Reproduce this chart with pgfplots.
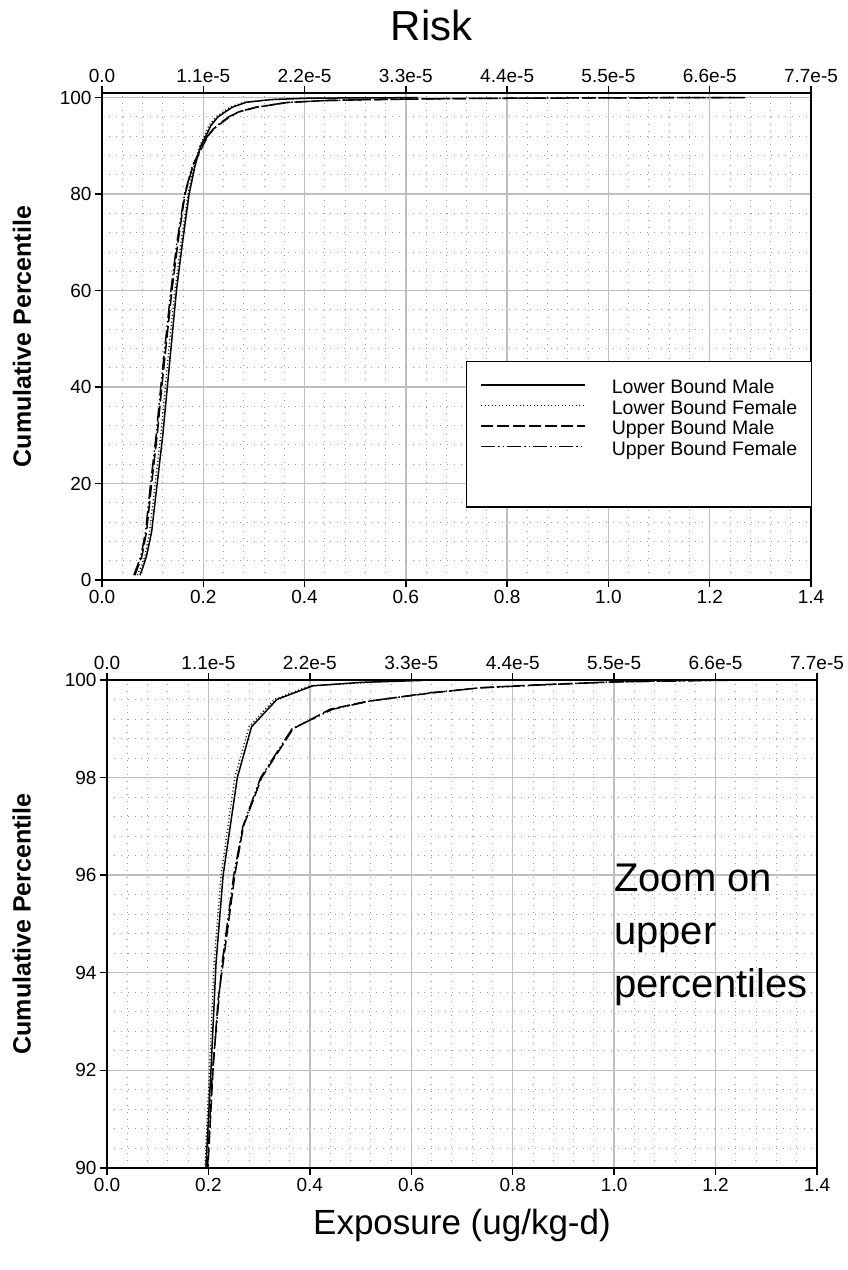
\documentclass[border=0pt]{standalone}
\usepackage{fontspec}
\setmainfont{Liberation Sans}
\usepackage{pgfplots}
\usepackage{pgfplotstable}
\pgfplotsset{compat=1.18}

\pgfplotstableread{
x p
0.075 1
0.082 3
0.088 5
0.098 10
0.109 20
0.120 30
0.129 40
0.138 50
0.147 60
0.159 70
0.172 80
0.184 86
0.195 90
0.205 92
0.215 94.2
0.229 96
0.257 98
0.285 99.04
0.335 99.6
0.406 99.88
0.500 99.95
0.623 99.99
}\lbm
\pgfplotstableread{
x p
0.070 1
0.078 3
0.085 5
0.094 10
0.105 20
0.116 30
0.125 40
0.134 50
0.144 60
0.156 70
0.170 80
0.182 86
0.193 90
0.202 92
0.211 94.2
0.225 96
0.252 98
0.280 99.04
0.330 99.6
0.400 99.88
0.550 99.97
0.600 100
}\lbf
\pgfplotstableread{
x p
0.065 1
0.072 3
0.079 5
0.088 10
0.098 20
0.109 30
0.118 40
0.128 50
0.138 60
0.150 70
0.164 80
0.180 86
0.199 90
0.209 92
0.219 93.44
0.229 94.2
0.252 96
0.269 97
0.305 98
0.367 99
0.440 99.4
0.512 99.56
0.637 99.73
0.736 99.84
0.850 99.9
1.000 99.96
1.150 99.99
1.260 100
}\ubm
\pgfplotstableread{
x p
0.063 1
0.070 3
0.077 5
0.086 10
0.096 20
0.107 30
0.116 40
0.126 50
0.136 60
0.148 70
0.163 80
0.179 86
0.198 90
0.208 92
0.227 94.2
0.250 96
0.268 97
0.303 98
0.365 99
0.445 99.4
0.520 99.57
0.640 99.74
0.740 99.84
0.860 99.9
1.000 99.96
1.200 99.99
1.270 100
}\ubf

\pgfplotsset{
  myaxis/.style={
    scale only axis, anchor=south west,
    xmin=0, xmax=1.4,
    xtick={0,0.2,0.4,0.6,0.8,1.0,1.2,1.4},
    minor x tick num=4, minor y tick num=4,
    grid=both,
    major grid style={draw=black!25, line width=1.3pt},
    minor grid style={draw=black!40, line width=0.9pt, dash pattern=on 0.9pt off 6pt},
    axis line style={line width=1.6pt},
    major tick style={black, line width=1.3pt},
    major tick length=7pt, minor tick length=0pt,
    tick align=outside,
    xtick pos=left, ytick pos=left,
    tick label style={font=\fontsize{19}{22}\selectfont},
    /pgf/number format/assume math mode=true,
    xticklabel style={/pgf/number format/.cd, fixed, fixed zerofill, precision=1},
    ylabel={\bfseries Cumulative Percentile},
    ylabel style={font=\fontsize{25}{28}\selectfont},
    legend image code/.code={\draw[##1, line width=1.5pt] (0pt,4.5pt) -- (104pt,4.5pt);},
  },
  riskaxis/.style={
    scale only axis, anchor=south west,
    xmin=0, xmax=1.4,
    axis x line*=top, axis y line=none,
    xtick={0,0.2,0.4,0.6,0.8,1.0,1.2,1.4},
    xticklabels={0.0,1.1e-5,2.2e-5,3.3e-5,4.4e-5,5.5e-5,6.6e-5,7.7e-5},
    axis line style={line width=1.6pt},
    major tick style={black, line width=1.3pt},
    major tick length=7pt,
    tick align=outside,
    tick label style={font=\fontsize{19}{22}\selectfont},
  },
  lbmstyle/.style={black, line width=1.5pt},
  lbfstyle/.style={black, line width=1.3pt, dash pattern=on 1pt off 2.5pt},
  ubmstyle/.style={black, line width=1.5pt, dash pattern=on 12pt off 4pt},
  ubfstyle/.style={black, line width=1.5pt, dash pattern=on 14pt off 3pt on 1.5pt off 3pt on 1.5pt off 3pt},
}

\begin{document}
\begin{tikzpicture}
\path[use as bounding box] (0,0) rectangle (847pt,1270pt);

% ---------- top panel ----------
\begin{axis}[myaxis,
  at={(102pt,690pt)}, width=709pt, height=486.7pt,
  ymin=0, ymax=100.9,
  ytick={0,20,40,60,80,100},
  ylabel style={at={(axis description cs:-0.113,0.5)}, anchor=center},
  legend style={draw=none, fill=none, inner sep=0pt,
    at={(axis cs:0.719,45.2)}, anchor=north west, xshift=14pt, yshift=-19pt,
    row sep=4pt,
    nodes={inner sep=0pt, text height=12.5pt, text depth=4pt, font=\fontsize{19.5}{21}\selectfont},
    /tikz/every odd column/.append style={column sep=26pt}},
  legend cell align=left,
]
\draw[line width=1pt, fill=white] (axis cs:0.719,45.2) rectangle (axis cs:1.4,15.1);
\draw[line width=1.4pt] ([xshift=0.6pt]axis cs:0.719,15.1) -- (axis cs:1.4,15.1);
\addplot[lbmstyle] table[x=x,y=p] {\lbm};
\addlegendentry{Lower Bound Male}
\addplot[lbfstyle] table[x=x,y=p] {\lbf};
\addlegendentry{Lower Bound Female}
\addplot[ubmstyle] table[x=x,y=p] {\ubm};
\addlegendentry{Upper Bound Male}
\addplot[ubfstyle] table[x=x,y=p] {\ubf};
\addlegendentry{Upper Bound Female}
\end{axis}
\begin{axis}[riskaxis,
  at={(102pt,690pt)}, width=709pt, height=486.7pt,
  ymin=0, ymax=100.9,
  title={Risk}, title style={font=\fontsize{42}{46}\selectfont, at={(axis description cs:0.465,1.126)}, anchor=center},
]
\addplot[draw=none] coordinates {(0,50)};
\end{axis}

% ---------- bottom panel ----------
\begin{axis}[myaxis,
  at={(107pt,102pt)}, width=710pt, height=488pt,
  ymin=90, ymax=100,
  ytick={90,92,94,96,98,100},
  ylabel style={at={(axis description cs:-0.12,0.5)}, anchor=center},
  xlabel={Exposure (ug/kg-d)},
  xlabel style={font=\fontsize{35}{40}\selectfont, at={(axis description cs:0.5,-0.117)}, anchor=center},
]
\addplot[lbmstyle] table[x=x,y=p] {\lbm};
\addplot[lbfstyle] table[x=x,y=p] {\lbf};
\addplot[ubmstyle] table[x=x,y=p] {\ubm};
\addplot[ubfstyle] table[x=x,y=p] {\ubf};
\node[anchor=north west, inner sep=0pt, align=left,
  font=\fontsize{40}{53}\selectfont] at (axis description cs:0.714,0.624)
  {Zoom on\\upper\\percentiles};
\end{axis}
\begin{axis}[riskaxis,
  at={(107pt,102pt)}, width=710pt, height=488pt,
  ymin=90, ymax=100,
]
\addplot[draw=none] coordinates {(0,95)};
\end{axis}
\end{tikzpicture}
\end{document}
